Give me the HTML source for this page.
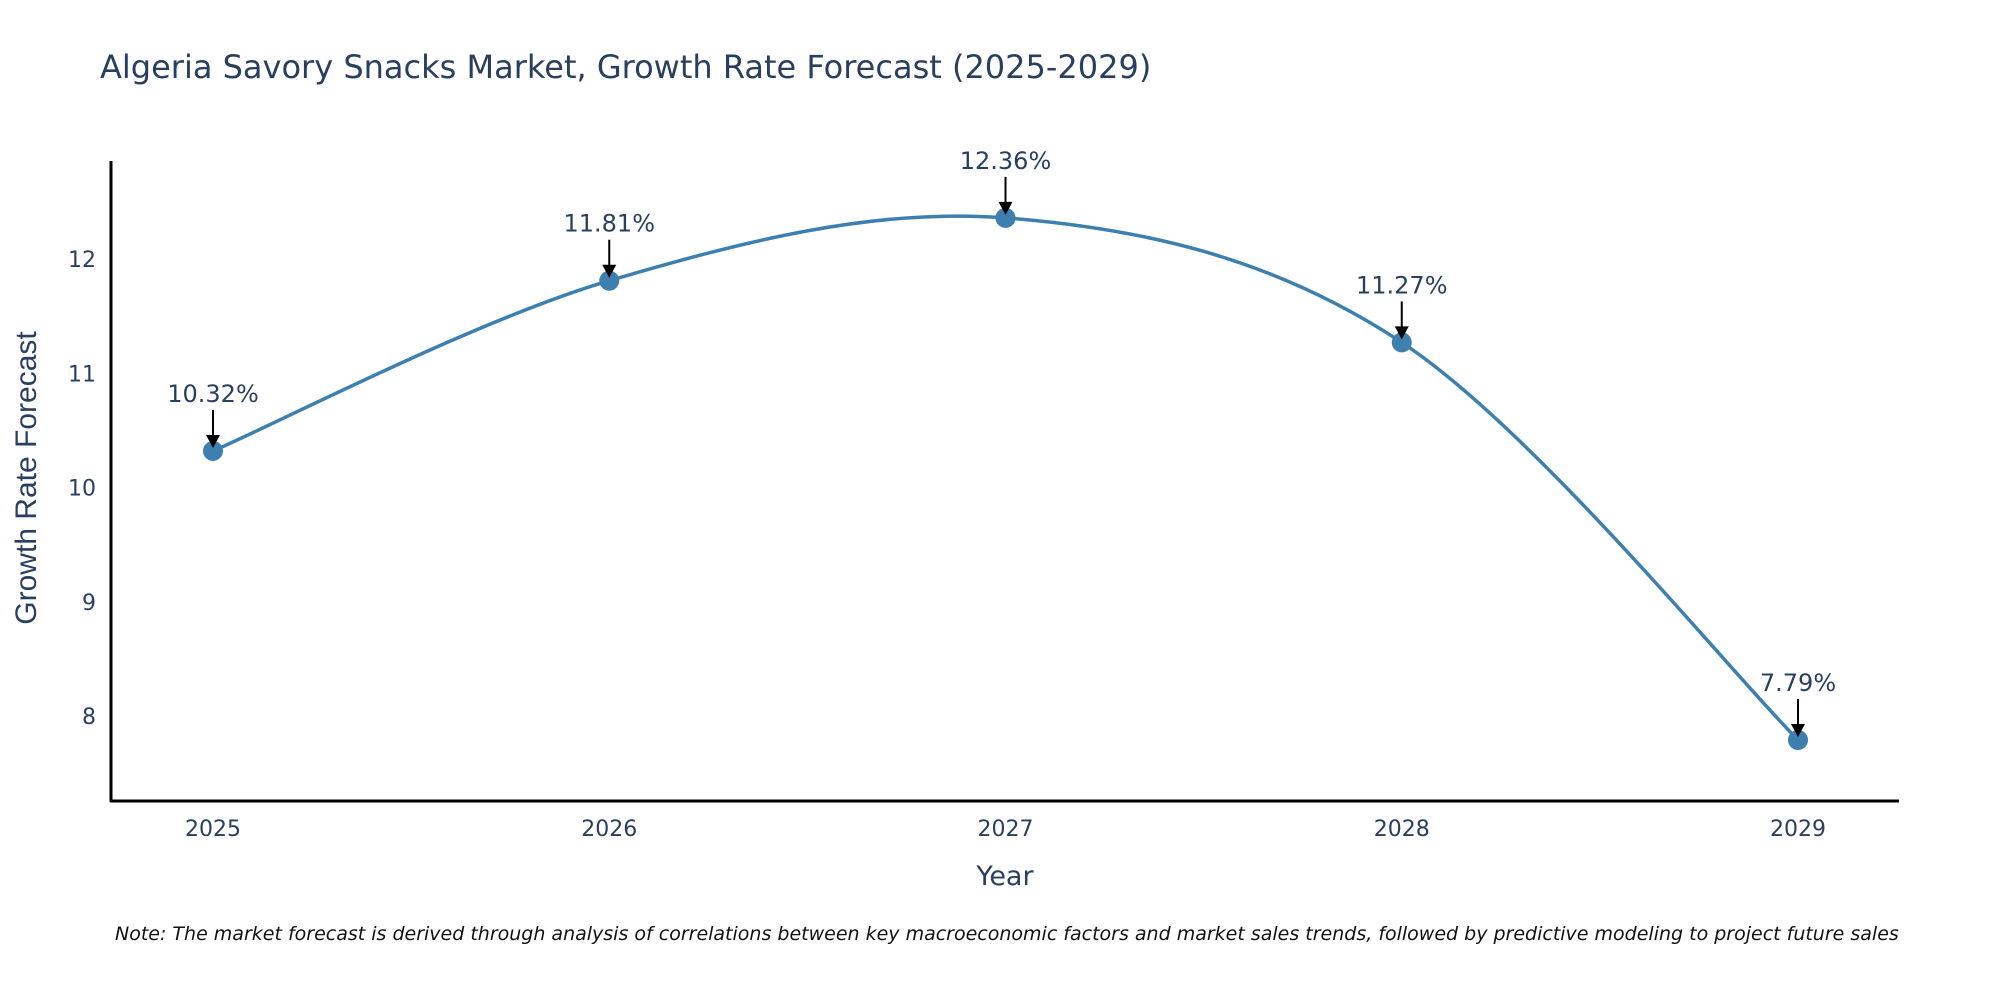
<!DOCTYPE html>
<html><head><meta charset="utf-8"><style>
body{margin:0;background:#fff;}
svg{display:block;font-family:"DejaVu Sans","Liberation Sans",sans-serif;}
</style></head><body>
<svg id="chart" width="2000" height="1000">
<text x="100" y="78" font-size="32" fill="#2a3f5f">Algeria Savory Snacks Market, Growth Rate Forecast (2025-2029)</text>
<g id="yticks"></g>
<g id="xticks"></g>
<line x1="111" y1="161" x2="111" y2="802" stroke="#000" stroke-width="3"/>
<line x1="110" y1="801" x2="1899" y2="801" stroke="#000" stroke-width="3"/>
<path id="curve" fill="none" stroke="#3d80b0" stroke-width="3.5"/>
<g id="points"></g>
<g id="annots"></g>
<text x="1005" y="885" font-size="27" fill="#2a3f5f" text-anchor="middle">Year</text>
<text transform="translate(36,478) rotate(-90)" font-size="30" fill="#2a3f5f" text-anchor="middle" font-family="Liberation Sans Narrow, Liberation Sans, sans-serif">Growth Rate Forecast</text>
<text x="115" y="940" font-size="19" font-style="italic" fill="#111">Note: The market forecast is derived through analysis of correlations between key macroeconomic factors and market sales trends, followed by predictive modeling to project future sales</text>
</svg>
<script>
const years=["2025","2026","2027","2028","2029"];
const values=[10.32,11.81,12.36,11.27,7.79];
const labels=["10.32%","11.81%","12.36%","11.27%","7.79%"];
const yTicks=[8,9,10,11,12];
const NS="http://www.w3.org/2000/svg";
function xs(i){return 213+i*(1798-213)/(years.length-1);}
function ys(v){return 259+(12-v)*114.25;}
function mk(t,a,p){const e=document.createElementNS(NS,t);for(const k in a)e.setAttribute(k,a[k]);p.appendChild(e);return e;}
const yt=document.getElementById('yticks');
yTicks.forEach(v=>{const t=mk('text',{x:96,y:ys(v)+8,'font-size':22,fill:'#2a3f5f','text-anchor':'end'},yt);


t.textContent=v;});
const xt=document.getElementById('xticks');
years.forEach((y,i)=>{const t=mk('text',{x:xs(i),y:836,'font-size':22,fill:'#2a3f5f','text-anchor':'middle'},xt);


t.textContent=y;});
const P=values.map((v,i)=>[xs(i),ys(v)]);
let d="M"+P[0][0]+","+P[0][1];
for(let i=0;i<P.length-1;i++){const p0=P[Math.max(0,i-1)],p1=P[i],p2=P[i+1],p3=P[Math.min(P.length-1,i+2)];const s=6;
d+=" C"+(p1[0]+(p2[0]-p0[0])/s)+","+(p1[1]+(p2[1]-p0[1])/s)+" "+(p2[0]-(p3[0]-p1[0])/s)+","+(p2[1]-(p3[1]-p1[1])/s)+" "+p2[0]+","+p2[1];}
document.getElementById('curve').setAttribute('d',d);
const pts=document.getElementById('points'),an=document.getElementById('annots');
P.forEach((p,i)=>{const c=mk('circle',{cx:p[0],cy:p[1],r:10,fill:'#3d80b0'},pts);


const l=mk('line',{x1:p[0],y1:p[1]-41,x2:p[0],y2:p[1]-14,stroke:'#000','stroke-width':2},an);


const h=mk('polygon',{points:(p[0]-7)+","+(p[1]-16)+" "+(p[0]+7)+","+(p[1]-16)+" "+p[0]+","+(p[1]-3),fill:'#000'},an);


const t=mk('text',{x:p[0],y:p[1]-49,'font-size':24,fill:'#2a3f5f','text-anchor':'middle'},an);


t.textContent=labels[i];});
</script>
</body></html>
